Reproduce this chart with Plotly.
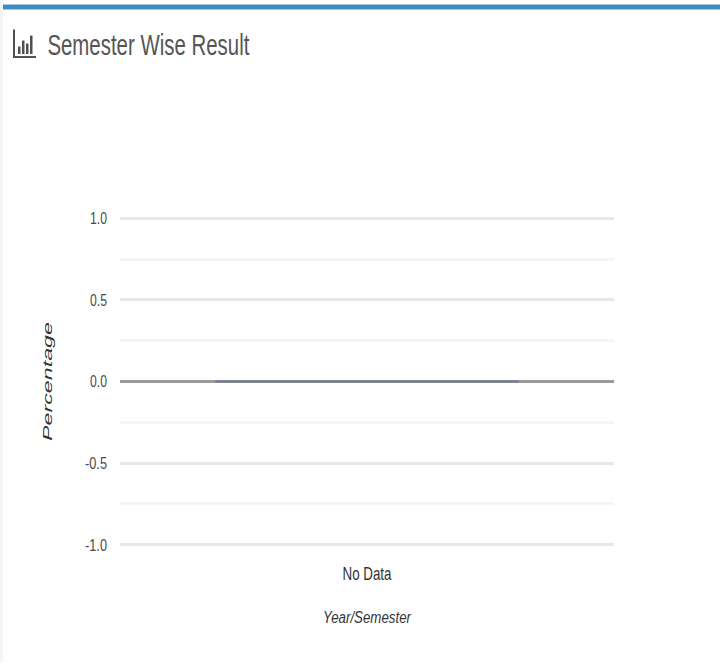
import plotly.graph_objects as go

categories = ["No Data"]
percentages = [0]
y_ticks = [-1.0, -0.5, 0.0, 0.5, 1.0]
y_tick_labels = ["-1.0", "-0.5", "0.0", "0.5", "1.0"]
chart_title = "Semester Wise Result"
x_title = "Year/Semester"
y_title = "Percentage"

W, H = 720, 663
L, R = 120, 614
PAD = 0.02                         # axis range slack so the -1 and 1 gridlines are drawn
unit = (545 - 218) / 2
T = 218 - PAD * unit
B = 545 + PAD * unit
SANS = "Liberation Sans, Arial, sans-serif"


def px(x):
    return (x - L) / (R - L)


def py(y):
    return (B - y) / (B - T)


def rect(x0, y0, x1, y1, color):
    return dict(type="rect", xref="paper", yref="paper", x0=px(x0), x1=px(x1),
                y0=py(y1), y1=py(y0), fillcolor=color, line_width=0, layer="above")


shapes = [
    rect(0, 0, 3, H, "#f4f5f6"),
    rect(3, 4, W, 9, "#3f8dbd"),
    # chart icon
    rect(13, 29, 15, 57.5, "#4f4f4f"),
    rect(13, 55.5, 36, 57.5, "#4f4f4f"),
    rect(18, 46, 20.5, 53.5, "#4f4f4f"),
    rect(22, 40, 24.5, 53.5, "#4f4f4f"),
    rect(26, 43, 28.5, 53.5, "#4f4f4f"),
    rect(30, 35, 32.5, 53.5, "#4f4f4f"),
]

fig = go.Figure(
    go.Bar(
        x=categories,
        y=percentages,
        width=0.615,
        marker=dict(color="#6f7f9f", line=dict(color="#6f7a96", width=2)),
        hoverinfo="skip",
    )
)

fig.update_layout(
    width=W,
    height=H,
    autosize=False,
    paper_bgcolor="white",
    plot_bgcolor="white",
    margin=dict(l=L, r=W - R, t=T, b=H - B, pad=0),
    showlegend=False,
    shapes=shapes,
    font=dict(family=SANS, color="#444444"),
    annotations=[
        dict(text=chart_title, xref="paper", yref="paper", x=px(148), y=py(43.5),
             xanchor="center", yanchor="middle", showarrow=False,
             font=dict(family=SANS, size=30, color="#555555")),
    ],
)

fig.update_xaxes(
    type="category",
    showgrid=False,
    showline=False,
    ticks="",
    ticklabelstandoff=13,
    tickfont=dict(family=SANS, size=18, color="#333333"),
    title=dict(text=x_title, font=dict(family=SANS, size=17, color="#333333", style="italic"), standoff=28),
)

fig.update_yaxes(
    range=[-1 - PAD, 1 + PAD],
    tickmode="array",
    tickvals=y_ticks,
    ticktext=y_tick_labels,
    tickfont=dict(family=SANS, size=17, color="#4a4a4a"),
    ticks="",
    ticklabelstandoff=12,
    gridcolor="#e8e8e8",
    gridwidth=3,
    showline=False,
    zeroline=True,
    zerolinecolor="#9a9a9a",
    zerolinewidth=3,
    minor=dict(tickmode="array", tickvals=[-0.75, -0.25, 0.25, 0.75], showgrid=True,
               gridcolor="#f6f6f6", gridwidth=3, ticks=""),
    title=dict(text=y_title, font=dict(family=SANS, size=17, color="#333333", style="italic"), standoff=20),
)

# The reference is a non-uniformly resized screenshot: horizontal text is narrowed,
# and the rotated axis title is stretched along its length.
squeeze_js = """
document.body.style.margin = '0';
function squeeze(el, targetWidth, across) {
  var x = parseFloat(el.getAttribute('x')) || 0;
  var y = parseFloat(el.getAttribute('y')) || 0;
  var base = el.getAttribute('transform') || '';
  var sx = targetWidth / el.getComputedTextLength();
  el.setAttribute('transform', base + ' translate(' + x + ',' + y + ') scale(' + sx + ',' + across + ') translate(' + (-x) + ',' + (-y) + ')');
}
var gd = document.querySelector('.plotly-graph-div');
gd.querySelectorAll('.annotation-text').forEach(function (e) { squeeze(e, 202, 1); });
gd.querySelectorAll('.xtick text').forEach(function (e) { squeeze(e, 49, 1); });
gd.querySelectorAll('.ytick text').forEach(function (e) { squeeze(e, e.textContent.length > 3 ? 22 : 17, 1); });
gd.querySelectorAll('.xtitle').forEach(function (e) { squeeze(e, 88, 1); });
gd.querySelectorAll('.ytitle').forEach(function (e) { squeeze(e, 119, 0.78); });
"""

fig.write_html("out.html", config={"displayModeBar": False}, post_script=squeeze_js)
